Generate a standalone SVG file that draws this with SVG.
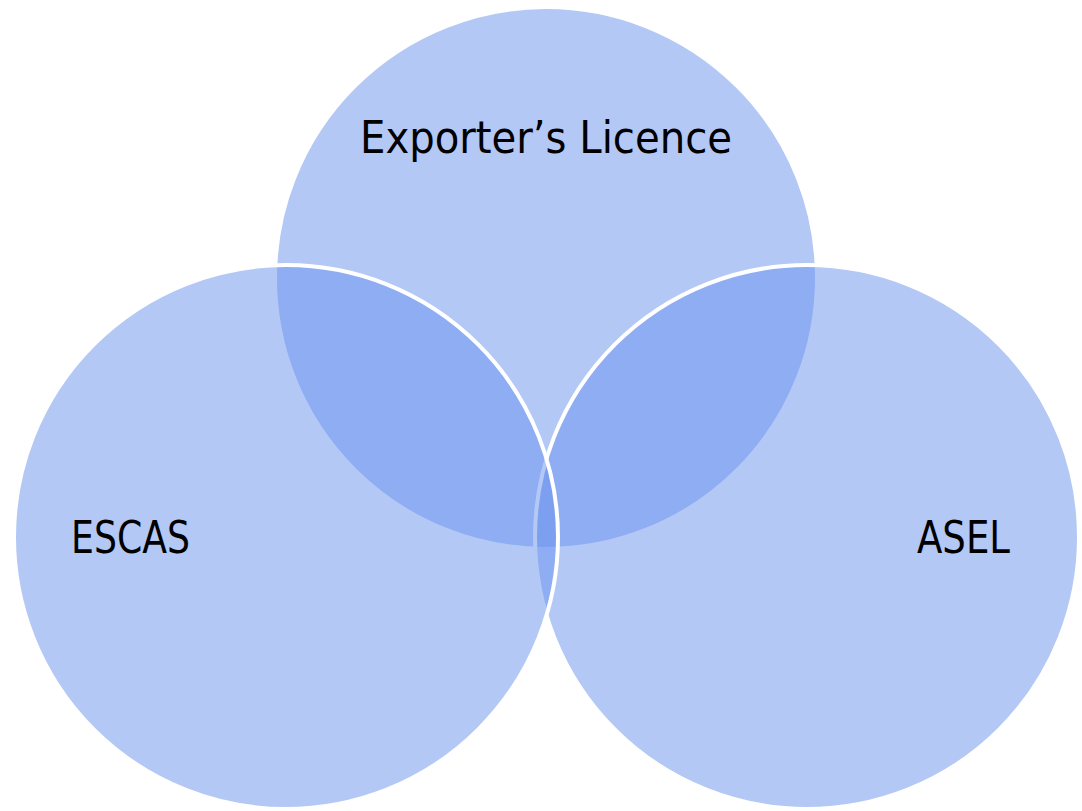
<svg xmlns="http://www.w3.org/2000/svg" width="1082" height="811" viewBox="0 0 1082 811">
<style>
.c{fill:#6991ED;fill-opacity:0.5;stroke:#FFFFFF;stroke-width:4}
.t{font-family:"DejaVu Sans Condensed","DejaVu Sans",sans-serif;font-stretch:condensed;font-size:44px;fill:#000000}
</style>
<rect width="1082" height="811" fill="#FFFFFF"/>
<g id="node-exporters-licence">
<circle class="c" cx="546" cy="278" r="271"/>
</g>
<g id="node-asel">
<circle class="c" cx="807" cy="537" r="272"/>
</g>
<g id="node-escas">
<circle class="c" cx="286" cy="537" r="272"/>
</g>
<g id="labels">
<text class="t" x="360" y="153" textLength="372" lengthAdjust="spacingAndGlyphs">Exporter’s Licence</text>
<text class="t" x="71" y="553" textLength="119" lengthAdjust="spacingAndGlyphs">ESCAS</text>
<text class="t" x="917" y="553" textLength="93" lengthAdjust="spacingAndGlyphs">ASEL</text>
</g>
<g id="connectors"/>
</svg>
